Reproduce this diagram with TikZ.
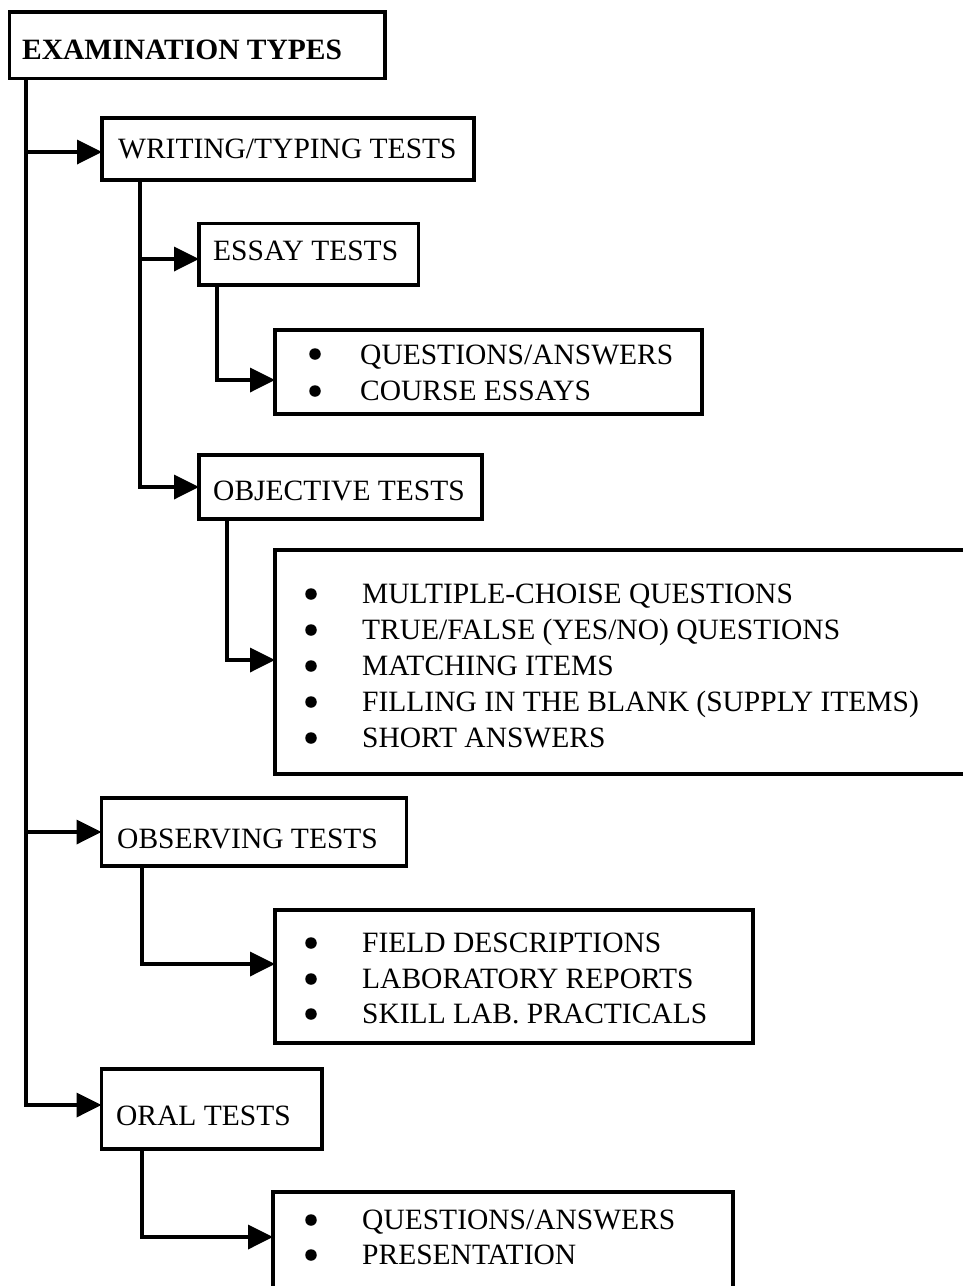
\documentclass[tikz,border=0pt]{standalone}
\usepackage{fontspec}
\setmainfont{Liberation Serif}
\usetikzlibrary{arrows.meta}
\begin{document}
\begin{tikzpicture}[x=1pt,y=-1pt,
  box/.style={draw, line width=3.6pt, inner sep=0pt, outer sep=0pt, anchor=north west},
  txt/.style={anchor=base west, inner sep=0pt, font=\fontsize{29.5}{36}\selectfont},
  boldtxt/.style={txt, font=\fontsize{29.5}{36}\selectfont\bfseries},
  dot/.style={circle, fill, inner sep=0pt, minimum size=11.5pt},
  link/.style={line width=3.6pt},
  arr/.style={link, -{Triangle[length=25pt,width=24pt]}}]

\fill[white] (0,0) rectangle (962,1286);
\useasboundingbox (0,0) rectangle (962,1286);

% boxes
\node[box, minimum width=375.5, minimum height=66.5] (root) at (9.5,12) {};
\node[box, minimum width=372, minimum height=62] (writing) at (102,118) {};
\node[box, minimum width=219.5, minimum height=61.5] (essay) at (199,223.5) {};
\node[box, minimum width=427, minimum height=84] (elist) at (275,330) {};
\node[box, minimum width=283, minimum height=64] (objective) at (199,455) {};
\node[box, minimum width=700, minimum height=224] (olist) at (275,550) {};
\node[box, minimum width=305, minimum height=68] (observing) at (101.5,798) {};
\node[box, minimum width=478, minimum height=133] (vlist) at (275,910) {};
\node[box, minimum width=220.5, minimum height=80] (oral) at (101.5,1069) {};
\node[box, minimum width=460, minimum height=110] (rlist) at (273,1192) {};

% headings
\node[boldtxt] (rootT) at (22,59) {EXAMINATION TYPES};
\node[txt] (writingT) at (118,158) {WRITING/TYPING TESTS};
\node[txt] (essayT) at (213,260) {ESSAY TESTS};
\node[txt] (objectiveT) at (213,500) {OBJECTIVE TESTS};
\node[txt] (observingT) at (117,848) {OBSERVING TESTS};
\node[txt] (oralT) at (116,1125) {ORAL TESTS};

% essay list
\node[dot] (ed1) at (315,354) {};
\node[dot] (ed2) at (315,391) {};
\node[txt] (ei1) at (360,364) {QUESTIONS/ANSWERS};
\node[txt] (ei2) at (360,400) {COURSE ESSAYS};

% objective list
\foreach \i/\y/\t in {1/603/{MULTIPLE-CHOISE QUESTIONS},
                      2/639/{TRUE/FALSE (YES/NO) QUESTIONS},
                      3/675/{MATCHING ITEMS},
                      4/711/{FILLING IN THE BLANK (SUPPLY ITEMS)},
                      5/747/{SHORT ANSWERS}}{
  \node[dot] (od\i) at (311,\y-9) {};
  \node[txt] (oi\i) at (362,\y) {\t};
}

% observing list
\foreach \i/\y/\t in {1/952/{FIELD DESCRIPTIONS},
                      2/988/{LABORATORY REPORTS},
                      3/1023/{SKILL LAB. PRACTICALS}}{
  \node[dot] (vd\i) at (311,\y-9) {};
  \node[txt] (vi\i) at (362,\y) {\t};
}

% oral list
\foreach \i/\y/\t in {1/1229/{QUESTIONS/ANSWERS},
                      2/1264/{PRESENTATION}}{
  \node[dot] (rd\i) at (311,\y-9) {};
  \node[txt] (ri\i) at (362,\y) {\t};
}

% bends of the connectors
\coordinate (b0) at (26,1105);
\coordinate (b1) at (26,152);
\coordinate (b2) at (26,832);
\coordinate (c0) at (140,487);
\coordinate (c1) at (140,259);
\coordinate (d0) at (217,380);
\coordinate (e0) at (227,660);
\coordinate (f0) at (142,964);
\coordinate (g0) at (142,1237);

% connectors
\draw[arr] (root.south -| b0) -- (b0) -- (b0 -| oral.west);
\draw[arr] (b1) -- (b1 -| writing.west);
\draw[arr] (b2) -- (b2 -| observing.west);
\draw[arr] (writing.south -| c0) -- (c0) -- (c0 -| objective.west);
\draw[arr] (c1) -- (c1 -| essay.west);
\draw[arr] (essay.south -| d0) -- (d0) -- (d0 -| elist.west);
\draw[arr] (objective.south -| e0) -- (e0) -- (e0 -| olist.west);
\draw[arr] (observing.south -| f0) -- (f0) -- (f0 -| vlist.west);
\draw[arr] (oral.south -| g0) -- (g0) -- (g0 -| rlist.west);
\end{tikzpicture}
\end{document}
